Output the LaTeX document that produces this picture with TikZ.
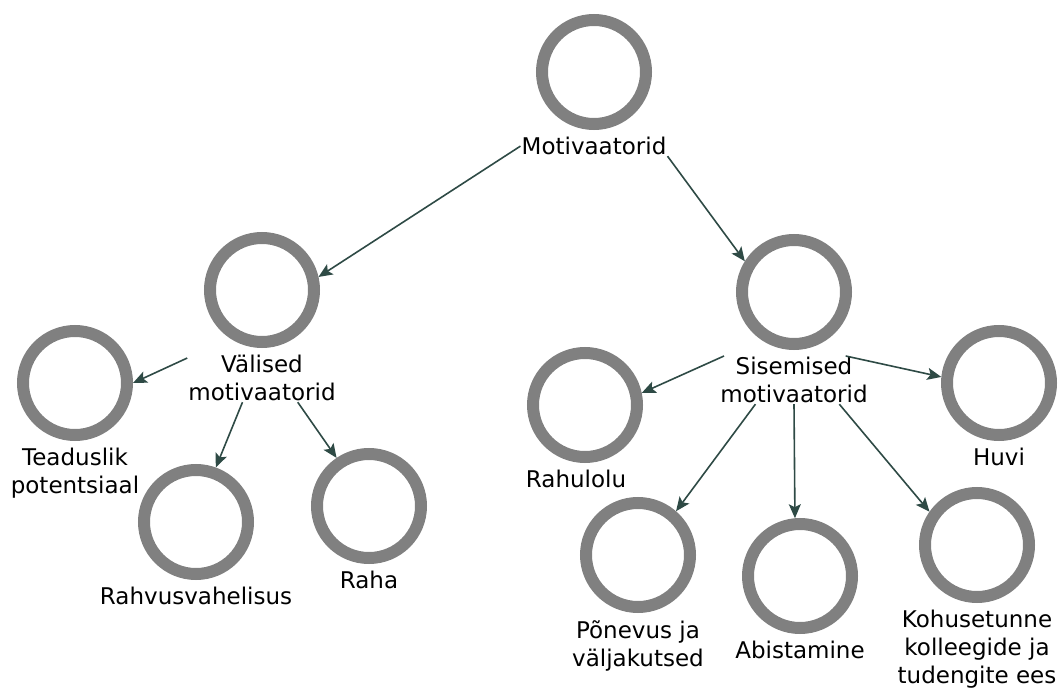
\documentclass[tikz,border=0pt]{standalone}
\usepackage{fontspec}
\setmainfont{DejaVu Sans}
\usetikzlibrary{arrows.meta, positioning}
\definecolor{ringgray}{HTML}{808080}
\definecolor{arrowgreen}{HTML}{2E4A45}

\begin{document}
\begin{tikzpicture}[x=1pt, y=-1pt, node distance=6pt,
    ring/.style={circle, draw=ringgray, line width=12pt, minimum size=104pt, inner sep=0pt},
    lbl/.style={align=center, inner sep=1pt, font=\fontsize{23}{28}\selectfont},
    arr/.style={color=arrowgreen, line width=1.6pt, -{Stealth[length=14pt, width=12pt, inset=3pt]}}]
    \useasboundingbox (0,0) rectangle (1058,690);
    % Define the nodes
    \node[ring] (mot) at (594,72) {};
    \node[lbl] (mot_l) [below=of mot] {Motivaatorid};
    \node[ring] (val) at (262,290) {};
    \node[lbl] (val_l) [below=of val] {Välised\\motivaatorid};
    \node[ring] (tea) at (75,383) {};
    \node[lbl] (tea_l) [below=of tea] {Teaduslik\\potentsiaal};
    \node[ring] (rvh) at (196,522) {};
    \node[lbl] (rvh_l) [below=of rvh] {Rahvusvahelisus};
    \node[ring] (raha) at (369,506) {};
    \node[lbl] (raha_l) [below=of raha] {Raha};
    \node[ring] (sis) at (794,292) {};
    \node[lbl] (sis_l) [below=of sis] {Sisemised\\motivaatorid};
    \node[ring] (rul) at (585,405) {};
    \node[lbl] (rul_l) [below=of rul, xshift=-9pt] {Rahulolu};
    \node[ring] (huvi) at (999,383) {};
    \node[lbl] (huvi_l) [below=of huvi] {Huvi};
    \node[ring] (pon) at (638,555) {};
    \node[lbl] (pon_l) [below=of pon] {Põnevus ja\\väljakutsed};
    \node[ring] (abi) at (800,576) {};
    \node[lbl] (abi_l) [below=of abi] {Abistamine};
    \node[ring] (koh) at (977,545) {};
    \node[lbl] (koh_l) [below=of koh] {Kohusetunne\\kolleegide ja\\tudengite ees};
    % Define the arrows
    \path[arr]
    (mot_l.west) edge (val.13)
    (mot_l.south east) edge (sis.148)
    (val_l.165) edge (tea.east)
    (val_l.-129) edge (rvh.70)
    (val_l.-34) edge (raha.124)
    (sis_l.161) edge (rul.12)
    (sis_l.25) edge (huvi.174)
    (sis_l.-148) edge (pon.49)
    (sis_l.south) edge (abi.95)
    (sis_l.-28) edge (koh.145);
\end{tikzpicture}
\end{document}
